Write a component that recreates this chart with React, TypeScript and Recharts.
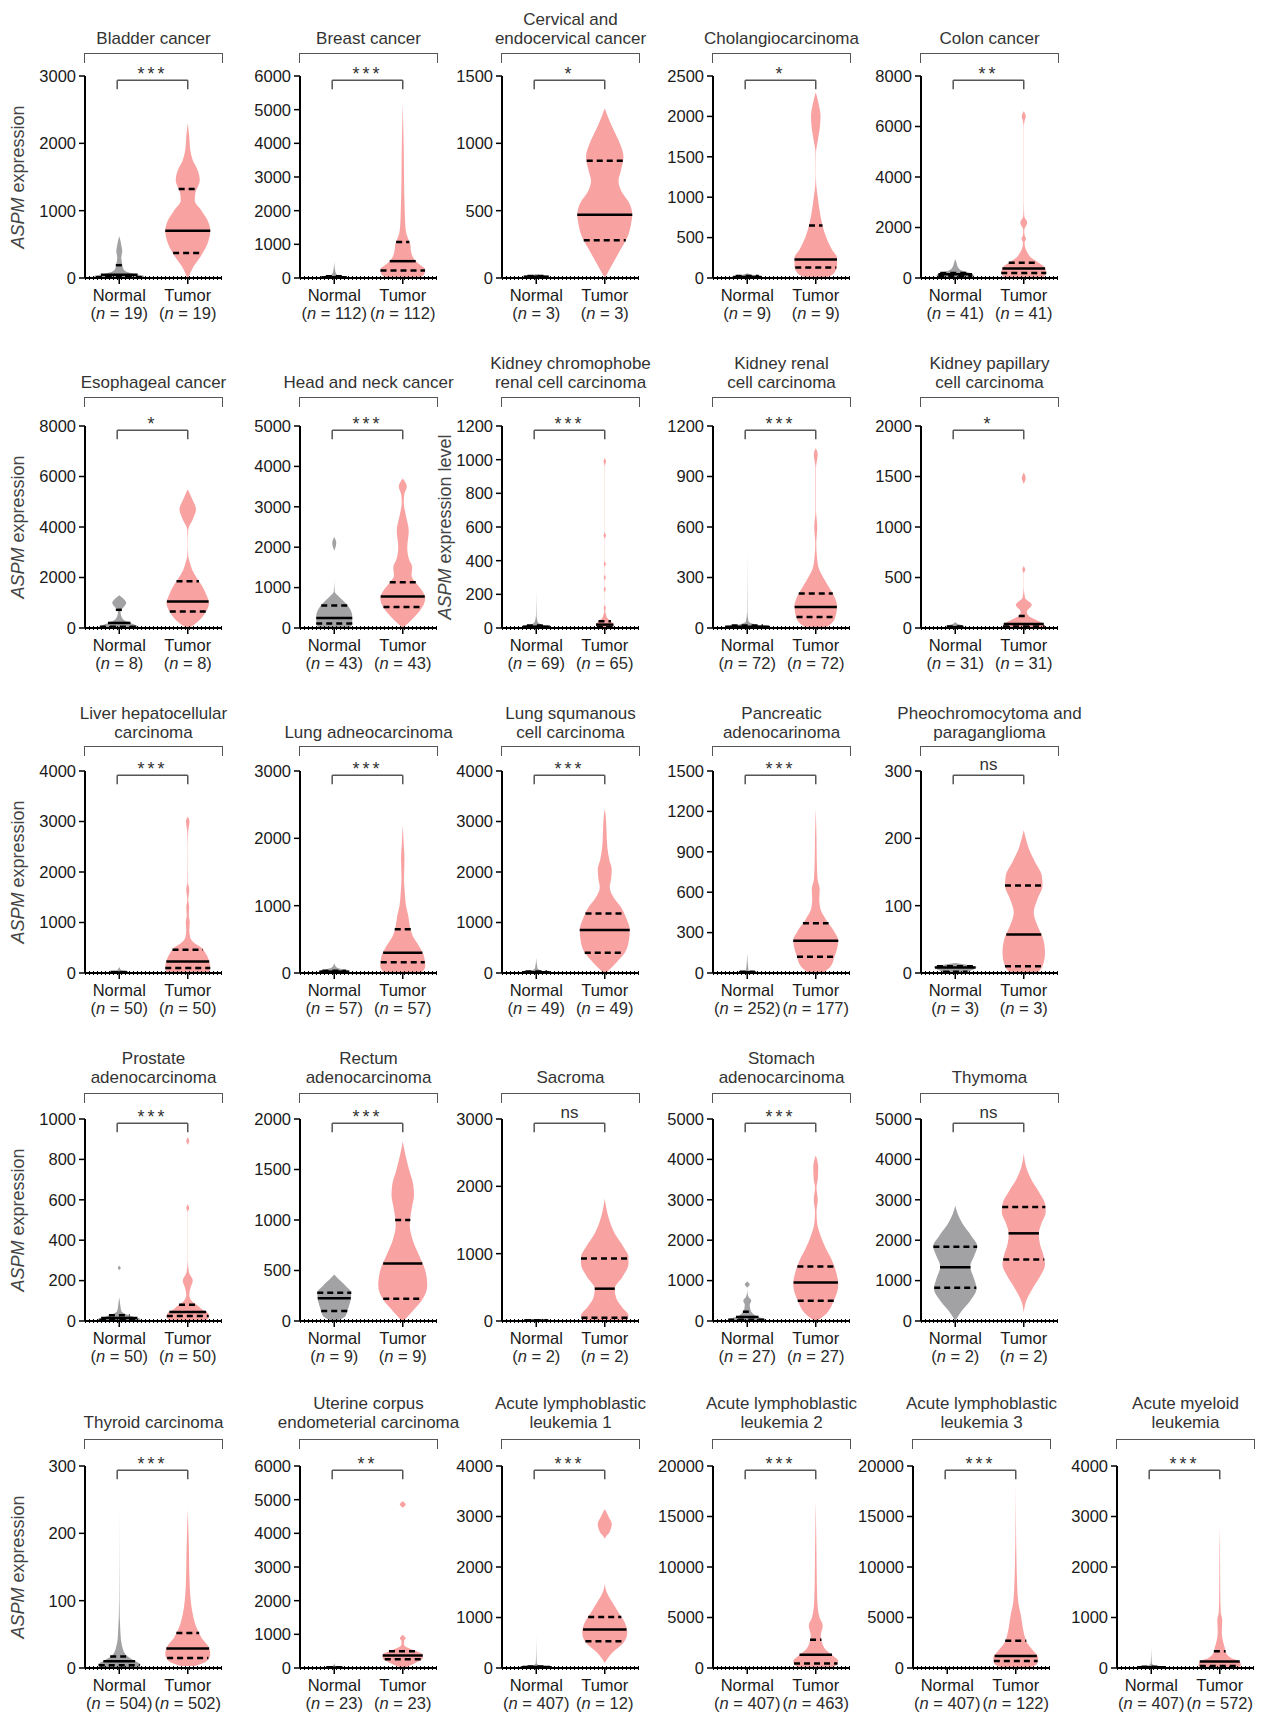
import React from 'react';
import { ComposedChart, Area, XAxis, YAxis, ReferenceLine } from 'recharts';

// panel order: left-to-right, top-to-bottom
const titles: string[][] = [
  ['Bladder cancer'], ['Breast cancer'], ['Cervical and', 'endocervical cancer'], ['Cholangiocarcinoma'], ['Colon cancer'],
  ['Esophageal cancer'], ['Head and neck cancer'], ['Kidney chromophobe', 'renal cell carcinoma'], ['Kidney renal', 'cell carcinoma'], ['Kidney papillary', 'cell carcinoma'],
  ['Liver hepatocellular', 'carcinoma'], ['Lung adneocarcinoma'], ['Lung squmanous', 'cell carcinoma'], ['Pancreatic', 'adenocarinoma'], ['Pheochromocytoma and', 'paraganglioma'],
  ['Prostate', 'adenocarcinoma'], ['Rectum', 'adenocarcinoma'], ['Sacroma'], ['Stomach', 'adenocarcinoma'], ['Thymoma'],
  ['Thyroid carcinoma'], ['Uterine corpus', 'endometerial carcinoma'], ['Acute lymphoblastic', 'leukemia 1'], ['Acute lymphoblastic', 'leukemia 2'], ['Acute lymphoblastic', 'leukemia 3'], ['Acute myeloid', 'leukemia'],
];

const yMax = [3000, 6000, 1500, 2500, 8000, 8000, 5000, 1200, 1200, 2000, 4000, 3000, 4000, 1500, 300, 1000, 2000, 3000, 5000, 5000, 300, 6000, 4000, 20000, 20000, 4000];
const yStep = [1000, 1000, 500, 500, 2000, 2000, 1000, 200, 300, 500, 1000, 1000, 1000, 300, 100, 200, 500, 1000, 1000, 1000, 100, 1000, 1000, 5000, 5000, 1000];

const normalN = [19, 112, 3, 9, 41, 8, 43, 69, 72, 31, 50, 57, 49, 252, 3, 50, 9, 2, 27, 2, 504, 23, 407, 407, 407, 407];
const tumorN = [19, 112, 3, 9, 41, 8, 43, 65, 72, 31, 50, 57, 49, 177, 3, 50, 9, 2, 27, 2, 502, 23, 12, 463, 122, 572];

const signif = ['***', '***', '*', '*', '**', '*', '***', '***', '***', '*', '***', '***', '***', '***', 'ns', '***', '***', 'ns', '***', 'ns', '***', '**', '***', '***', '***', '***'];

// [q1, median, q3]
const normalStats: (number[] | null)[] = [
  [10, 50, 190], [10, 20, 50], [5, 10, 15], [5, 12, 25], [80, 150, 200],
  [50, 200, 720], [110, 250, 560], [3, 8, 15], [3, 8, 15], [4, 8, 15],
  [5, 10, 20], [10, 20, 35], [8, 15, 30], [2, 5, 10], [2, 8, 10],
  [5, 15, 28], [100, 225, 280], [3, 5, 8], [30, 100, 230], [820, 1330, 1840],
  [4, 10, 17], [5, 10, 20], [8, 20, 30], null, null, [5, 15, 25],
];
const tumorStats: number[][] = [
  [370, 700, 1320], [220, 500, 1070], [280, 470, 870], [130, 230, 650], [200, 380, 600],
  [650, 1050, 1850], [520, 780, 1130], [5, 20, 40], [65, 125, 205], [15, 40, 120],
  [100, 230, 460], [160, 300, 650], [400, 850, 1180], [120, 240, 370], [10, 57, 130],
  [25, 45, 80], [220, 570, 1000], [50, 480, 930], [500, 950, 1350], [1520, 2170, 2820],
  [15, 29, 52], [260, 370, 500], [530, 760, 1010], [450, 1300, 2800], [700, 1200, 2700], [40, 130, 330],
];

// violin outlines: [value, relative density]
const normalShape: number[][][] = [
  [[0, 0.9], [30, 1.0], [60, 0.6], [100, 0.25], [150, 0.15], [200, 0.12], [300, 0.08], [400, 0.12], [450, 0.1], [550, 0.05], [620, 0]],
  [[0, 0.6], [40, 0.4], [80, 0.15], [150, 0.06], [300, 0.02], [500, 0]],
  [[0, 0.4], [10, 0.5], [20, 0.2], [30, 0]],
  [[0, 0.6], [20, 0.55], [40, 0.2], [60, 0]],
  [[0, 0.4], [100, 0.75], [200, 0.6], [300, 0.25], [450, 0.1], [600, 0.05], [750, 0]],
  [[0, 0.85], [100, 0.7], [200, 0.45], [350, 0.15], [550, 0.06], [700, 0.05], [800, 0.15], [1000, 0.28], [1150, 0.18], [1300, 0]],
  [[0, 0.6], [100, 0.72], [300, 0.72], [500, 0.6], [650, 0.4], [800, 0.15], [900, 0.02], [1200, 0], [1900, 0], [2000, 0.05], [2100, 0.08], [2250, 0]],
  [[0, 0.5], [10, 0.55], [20, 0.2], [40, 0.05], [80, 0.01], [240, 0]],
  [[0, 0.8], [10, 0.9], [20, 0.35], [40, 0.05], [100, 0.008], [500, 0]],
  [[0, 0.3], [20, 0.35], [40, 0.1], [60, 0]],
  [[0, 0.3], [20, 0.35], [50, 0.1], [100, 0.02], [120, 0]],
  [[0, 0.55], [20, 0.6], [50, 0.35], [80, 0.1], [150, 0]],
  [[0, 0.5], [20, 0.55], [50, 0.2], [100, 0.05], [300, 0]],
  [[0, 0.3], [8, 0.35], [20, 0.05], [150, 0]],
  [[0, 0.35], [5, 0.7], [9, 0.85], [12, 0.5], [15, 0]],
  [[0, 0.75], [10, 0.85], [20, 0.6], [35, 0.25], [50, 0.08], [80, 0.04], [100, 0.02], [120, 0], [250, 0], [262, 0.06], [274, 0]],
  [[0, 0.1], [50, 0.45], [120, 0.55], [200, 0.65], [280, 0.68], [350, 0.45], [420, 0.15], [460, 0]],
  [[0, 0.5], [10, 0.45], [20, 0]],
  [[0, 0.8], [40, 0.75], [100, 0.45], [200, 0.2], [300, 0.12], [400, 0.1], [500, 0.16], [600, 0.05], [700, 0.01], [820, 0], [900, 0.1], [980, 0]],
  [[0, 0], [200, 0.2], [500, 0.6], [800, 0.85], [1050, 0.75], [1350, 0.6], [1600, 0.75], [1850, 0.88], [2100, 0.65], [2400, 0.3], [2650, 0.1], [2850, 0]],
  [[0, 0.7], [5, 0.85], [12, 0.55], [20, 0.25], [35, 0.1], [50, 0.05], [100, 0.008], [250, 0]],
  [[0, 0.3], [15, 0.35], [40, 0.1], [100, 0.02], [150, 0]],
  [[0, 0.6], [15, 0.65], [40, 0.15], [100, 0.02], [300, 0.006], [700, 0]],
  [[0, 0.03], [100, 0]],
  [[0, 0.03], [100, 0]],
  [[0, 0.5], [15, 0.55], [40, 0.15], [100, 0.02], [400, 0]],
];

const tumorShape: number[][][] = [
  [[0, 0.02], [150, 0.2], [300, 0.48], [500, 0.78], [700, 0.9], [850, 0.8], [1000, 0.55], [1150, 0.28], [1250, 0.3], [1450, 0.48], [1600, 0.4], [1750, 0.2], [1900, 0.1], [2100, 0.06], [2300, 0]],
  [[0, 0.6], [100, 0.85], [250, 0.9], [400, 0.68], [500, 0.52], [600, 0.42], [800, 0.33], [1000, 0.3], [1100, 0.25], [1300, 0.15], [1600, 0.1], [2000, 0.08], [2500, 0.06], [3000, 0.05], [3800, 0.04], [4500, 0.02], [5200, 0]],
  [[0, 0], [100, 0.3], [200, 0.6], [300, 0.9], [400, 1.05], [470, 1.1], [550, 1.0], [650, 0.65], [720, 0.55], [800, 0.65], [900, 0.75], [1000, 0.6], [1100, 0.35], [1200, 0.12], [1260, 0]],
  [[0, 0.35], [50, 0.7], [150, 0.85], [250, 0.85], [350, 0.65], [500, 0.42], [650, 0.27], [800, 0.17], [1000, 0.08], [1150, 0.02], [1300, 0.005], [1550, 0.01], [1700, 0.08], [1850, 0.16], [2000, 0.19], [2150, 0.12], [2300, 0]],
  [[0, 0.75], [200, 0.9], [400, 0.85], [600, 0.6], [800, 0.3], [1000, 0.15], [1200, 0.06], [1400, 0.03], [1550, 0.09], [1700, 0.03], [1900, 0.02], [2200, 0.14], [2450, 0.02], [3000, 0.005], [6000, 0.005], [6250, 0.04], [6400, 0.08], [6600, 0]],
  [[0, 0.05], [250, 0.4], [600, 0.7], [1000, 0.85], [1300, 0.75], [1700, 0.55], [2000, 0.35], [2300, 0.18], [2600, 0.08], [2850, 0.02], [3300, 0.005], [3900, 0.02], [4300, 0.2], [4700, 0.33], [5100, 0.18], [5500, 0]],
  [[0, 0], [200, 0.35], [400, 0.65], [600, 0.85], [750, 0.9], [900, 0.8], [1100, 0.55], [1300, 0.35], [1500, 0.38], [1700, 0.25], [2000, 0.18], [2400, 0.24], [2800, 0.12], [3100, 0.04], [3300, 0.06], [3500, 0.16], [3700, 0]],
  [[0, 0.3], [20, 0.35], [40, 0.25], [60, 0.1], [80, 0.05], [100, 0.02], [120, 0.04], [140, 0.005], [210, 0.005], [230, 0.04], [250, 0.005], [280, 0.005], [300, 0.04], [320, 0.005], [360, 0.005], [380, 0.04], [400, 0.005], [530, 0.005], [550, 0.05], [570, 0.005], [960, 0.005], [990, 0.05], [1010, 0]],
  [[0, 0.4], [50, 0.75], [130, 0.85], [200, 0.7], [250, 0.5], [300, 0.3], [350, 0.13], [420, 0.05], [500, 0.02], [600, 0.06], [700, 0.01], [950, 0.01], [1030, 0.08], [1070, 0]],
  [[0, 0.85], [40, 0.8], [80, 0.5], [120, 0.2], [160, 0.12], [230, 0.32], [300, 0.05], [400, 0.005], [540, 0.005], [580, 0.06], [620, 0], [1420, 0], [1480, 0.08], [1540, 0]],
  [[0, 0.85], [100, 0.9], [250, 0.85], [400, 0.7], [500, 0.55], [600, 0.25], [700, 0.1], [850, 0.06], [1000, 0.08], [1150, 0.04], [1300, 0.06], [1450, 0.02], [1650, 0.06], [1800, 0.01], [2500, 0.005], [2800, 0.02], [3000, 0.07], [3100, 0]],
  [[0, 0.75], [100, 0.9], [250, 0.85], [400, 0.65], [550, 0.4], [700, 0.28], [850, 0.22], [1000, 0.13], [1200, 0.08], [1400, 0.05], [1700, 0.07], [1900, 0.04], [2200, 0]],
  [[0, 0.05], [200, 0.45], [400, 0.8], [600, 0.95], [850, 1.0], [1100, 0.85], [1300, 0.65], [1500, 0.35], [1700, 0.2], [1850, 0.25], [2050, 0.28], [2250, 0.18], [2500, 0.1], [2800, 0.07], [3100, 0.04], [3250, 0]],
  [[0, 0.3], [50, 0.6], [120, 0.75], [240, 0.9], [320, 0.7], [400, 0.4], [480, 0.18], [550, 0.14], [620, 0.16], [700, 0.07], [850, 0.04], [1000, 0.03], [1220, 0]],
  [[0, 0.55], [10, 0.75], [30, 0.85], [50, 0.78], [70, 0.55], [90, 0.4], [110, 0.55], [130, 0.75], [145, 0.72], [165, 0.45], [185, 0.2], [200, 0.08], [212, 0]],
  [[0, 0.7], [20, 0.85], [40, 0.8], [60, 0.55], [80, 0.35], [100, 0.15], [130, 0.06], [160, 0.1], [200, 0.2], [240, 0.05], [300, 0.005], [540, 0.005], [560, 0.06], [580, 0], [870, 0], [890, 0.06], [910, 0]],
  [[0, 0.03], [100, 0.4], [200, 0.75], [350, 0.98], [500, 0.9], [650, 0.65], [800, 0.4], [950, 0.28], [1100, 0.35], [1250, 0.45], [1350, 0.42], [1500, 0.25], [1650, 0.1], [1780, 0]],
  [[0, 0.9], [80, 0.95], [200, 0.7], [350, 0.45], [480, 0.4], [650, 0.7], [850, 0.95], [950, 0.95], [1100, 0.75], [1300, 0.4], [1500, 0.18], [1700, 0.05], [1820, 0]],
  [[0, 0.05], [200, 0.45], [500, 0.72], [900, 0.9], [1200, 0.82], [1500, 0.65], [1800, 0.4], [2100, 0.2], [2400, 0.06], [2700, 0.03], [3000, 0.08], [3300, 0.03], [3500, 0.08], [3800, 0.1], [4100, 0]],
  [[200, 0], [500, 0.1], [800, 0.35], [1100, 0.65], [1400, 0.85], [1600, 0.8], [1900, 0.65], [2150, 0.6], [2400, 0.7], [2700, 0.88], [2900, 0.85], [3200, 0.6], [3500, 0.3], [3800, 0.1], [4150, 0]],
  [[3, 0.3], [10, 0.75], [20, 0.9], [30, 0.85], [45, 0.55], [60, 0.35], [80, 0.2], [100, 0.12], [130, 0.07], [170, 0.05], [200, 0.03], [235, 0]],
  [[0, 0.05], [150, 0.5], [300, 0.8], [400, 0.8], [500, 0.55], [600, 0.2], [700, 0.05], [800, 0.05], [880, 0.12], [1000, 0], [4750, 0], [4850, 0.12], [4950, 0]],
  [[100, 0], [300, 0.3], [500, 0.75], [700, 0.9], [900, 0.8], [1100, 0.55], [1300, 0.3], [1500, 0.08], [1700, 0], [2550, 0], [2700, 0.2], [2850, 0.28], [3000, 0.15], [3150, 0]],
  [[0, 0.55], [300, 0.85], [700, 0.9], [1200, 0.7], [1800, 0.4], [2500, 0.25], [3200, 0.2], [4200, 0.28], [5000, 0.15], [6000, 0.08], [7500, 0.05], [9000, 0.04], [11000, 0.03], [13000, 0.02], [16500, 0]],
  [[0, 0.5], [400, 0.85], [1000, 0.9], [1700, 0.7], [2500, 0.45], [3200, 0.35], [4000, 0.28], [5000, 0.22], [6500, 0.1], [8000, 0.06], [10500, 0.03], [14000, 0.01], [18500, 0]],
  [[0, 0.7], [60, 0.85], [130, 0.8], [200, 0.45], [300, 0.25], [400, 0.2], [550, 0.12], [700, 0.08], [950, 0.1], [1100, 0.04], [1500, 0.02], [2000, 0.015], [2800, 0]],
];

// layout
const rowTops = [76, 426, 771, 1119, 1466];
const colXs = [
  [85, 300, 502, 713, 921],
  [85, 300, 502, 713, 921],
  [85, 300, 502, 713, 921],
  [85, 300, 502, 713, 921],
  [85, 300, 502, 713, 913, 1117],
];
const titleGap = [37, 43, 38, 41, 43];
const bracketGap = [23, 29, 25, 26, 27];

const PW = 137;
const PH = 202;
const YW = 72;
const MT = 10;
const MR = 10;
const XH = 56;
const SCALE = 0.365;
const GREY = '#a2a2a5';
const PINK = '#f9a2a2';
const FONT = '"Liberation Sans", Arial, sans-serif';

const widthAt = (shape: number[][], v: number) => {
  if (v <= shape[0][0]) return shape[0][1];
  for (let k = 1; k < shape.length; k++) {
    const [v0, w0] = shape[k - 1];
    const [v1, w1] = shape[k];
    if (v <= v1) return w0 + ((w1 - w0) * (v - v0)) / (v1 - v0);
  }
  return 0;
};

const buildRows = (i: number) => [
  ...normalShape[i].map(([v, w]) => ({ v, n: [0.5 - w * SCALE, 0.5 + w * SCALE] })),
  ...tumorShape[i].map(([v, w]) => ({ v, t: [1.5 - w * SCALE, 1.5 + w * SCALE] })),
];

const CatTick = (props: any) => {
  const { x, y, payload, nN, nT } = props;
  const isNormal = payload.value < 1;
  return (
    <g>
      <text x={x} y={y + 15} textAnchor="middle" fontSize={16.5} fill="#1a1a1a">
        {isNormal ? 'Normal' : 'Tumor'}
      </text>
      <text x={x} y={y + 33} textAnchor="middle" fontSize={16.5} fill="#2a2a2a">
        (<tspan fontStyle="italic">n</tspan> = {isNormal ? nN : nT})
      </text>
    </g>
  );
};

const statLines = (c: number, shape: number[][], stats: number[] | null, key: string) => {
  if (!stats) return null;
  return stats.map((v, k) => {
    const hw = Math.max(widthAt(shape, v) * SCALE, 0.05);
    return (
      <ReferenceLine
        key={`${key}${k}`}
        segment={[{ x: c - hw, y: v }, { x: c + hw, y: v }]}
        stroke="#000"
        strokeWidth={2.5}
        strokeDasharray={k === 1 ? undefined : '6 4'}
      />
    );
  });
};

const Panel = ({ i, ax, top, row }: { i: number; ax: number; top: number; row: number }) => {
  const max = yMax[i];
  const ticks: number[] = [];
  for (let t = 0; t <= max; t += yStep[i]) ticks.push(t);
  const rows = buildRows(i);
  const bTop = max * 0.979;
  const bLeg = max * 0.935;
  const lines = titles[i];
  return (
    <>
      {lines.map((s, k) => (
        <div
          key={k}
          style={{
            position: 'absolute', left: ax + PW / 2, top: top - titleGap[row] - (lines.length - 1 - k) * 19,
            transform: 'translate(-50%, -50%)', whiteSpace: 'nowrap', fontSize: 17, color: '#333', lineHeight: '18px',
          }}
        >
          {s}
        </div>
      ))}
      <div
        style={{
          position: 'absolute', left: ax - 1, top: top - bracketGap[row], width: PW, height: 9,
          borderTop: '1.5px solid #555', borderLeft: '1.5px solid #555', borderRight: '1.5px solid #555',
        }}
      />
      <div
        style={{
          position: 'absolute', left: ax + 67.5, top: signif[i] === 'ns' ? top - 6 : top - 2,
          transform: 'translate(-50%, -50%)', fontSize: signif[i] === 'ns' ? 17 : 18, letterSpacing: signif[i] === 'ns' ? 0 : 3,
          color: '#333', lineHeight: '18px', whiteSpace: 'nowrap',
        }}
      >
        {signif[i]}
      </div>
      <div style={{ position: 'absolute', left: ax - YW, top: top - MT }}>
        <ComposedChart
          width={YW + PW + MR}
          height={MT + PH + XH}
          layout="vertical"
          data={rows}
          margin={{ top: MT, right: MR, bottom: 0, left: 0 }}
        >
          <XAxis
            type="number"
            domain={[0, 2]}
            ticks={[0.5, 1.5]}
            interval={0}
            allowDataOverflow
            height={XH}
            axisLine={{ stroke: '#000', strokeWidth: 2 }}
            tickLine={{ stroke: '#000', strokeWidth: 1.5 }}
            tickSize={6}
            tick={(p: any) => <CatTick {...p} nN={normalN[i]} nT={tumorN[i]} />}
          />
          <YAxis
            type="number"
            dataKey="v"
            domain={[0, max]}
            ticks={ticks}
            interval={0}
            reversed
            allowDataOverflow
            width={YW}
            axisLine={{ stroke: '#000', strokeWidth: 2 }}
            tickLine={{ stroke: '#000', strokeWidth: 1.5 }}
            tickSize={6}
            tickMargin={3}
            tick={{ fontSize: 16.5, fill: '#1a1a1a' }}
          />
          <Area dataKey="n" type="monotone" fill={GREY} fillOpacity={1} stroke="none" dot={false} activeDot={false} isAnimationActive={false} />
          <Area dataKey="t" type="monotone" fill={PINK} fillOpacity={1} stroke="none" dot={false} activeDot={false} isAnimationActive={false} />
          {statLines(0.5, normalShape[i], normalStats[i], 'n')}
          {statLines(1.5, tumorShape[i], tumorStats[i], 't')}
          <ReferenceLine y={0} stroke="#000" strokeWidth={4} strokeDasharray="1 3" />
          <ReferenceLine segment={[{ x: 0.47, y: bLeg }, { x: 0.47, y: bTop }]} stroke="#555" strokeWidth={1.5} />
          <ReferenceLine segment={[{ x: 0.47, y: bTop }, { x: 1.5, y: bTop }]} stroke="#555" strokeWidth={1.5} />
          <ReferenceLine segment={[{ x: 1.5, y: bLeg }, { x: 1.5, y: bTop }]} stroke="#555" strokeWidth={1.5} />
        </ComposedChart>
      </div>
    </>
  );
};

const YLabel = ({ x, y, text }: { x: number; y: number; text: string }) => (
  <div
    style={{
      position: 'absolute', left: x, top: y, transform: 'translate(-50%, -50%) rotate(-90deg)',
      whiteSpace: 'nowrap', fontSize: 18, color: '#444',
    }}
  >
    <span style={{ fontStyle: 'italic' }}>ASPM</span> {text}
  </div>
);

export default function App() {
  const panels: React.ReactNode[] = [];
  let idx = 0;
  colXs.forEach((cols, row) => {
    cols.forEach((ax) => {
      panels.push(<Panel key={idx} i={idx} ax={ax} top={rowTops[row]} row={row} />);
      idx += 1;
    });
  });
  return (
    <div
      style={{
        position: 'absolute', left: 0, top: 0, width: 1263, height: 1716, overflow: 'hidden',
        background: '#fff', fontFamily: FONT,
      }}
    >
      {panels}
      {rowTops.map((t) => (
        <YLabel key={t} x={18} y={t + PH / 2} text="expression" />
      ))}
      <YLabel x={445} y={rowTops[1] + PH / 2} text="expression level" />
    </div>
  );
}
